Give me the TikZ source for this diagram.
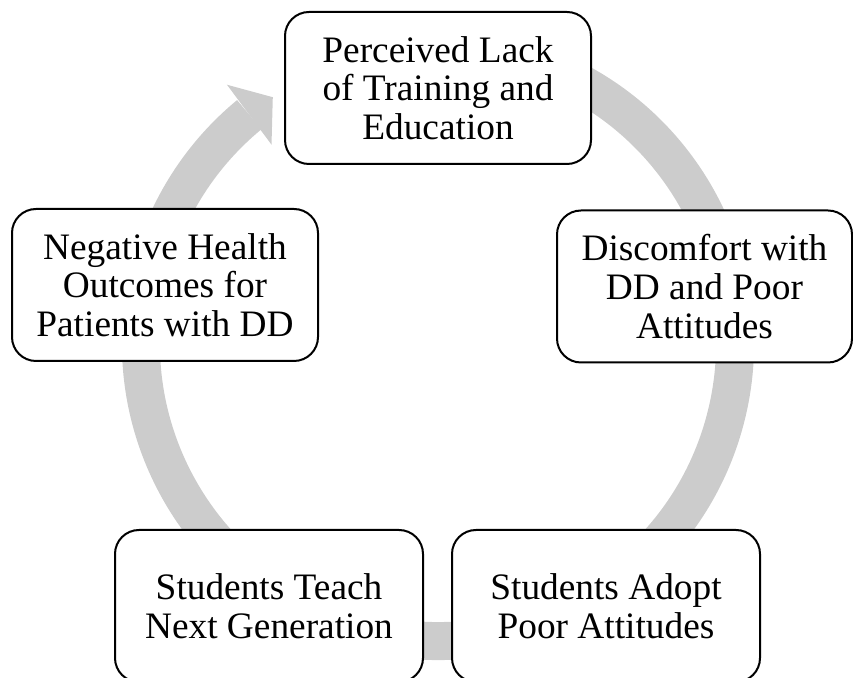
\documentclass[tikz,border=0pt]{standalone}
\usepackage{fontspec}
\setmainfont{Liberation Serif}
\usetikzlibrary{arrows.meta,bending}

\definecolor{ringgray}{RGB}{204,204,204}

\begin{document}
\begin{tikzpicture}[
  x=0.75pt, y=0.75pt,
  cyclebox/.style={draw,line width=1.5pt,rounded corners=18pt,fill=white,
                   align=center,inner sep=2pt,
                   minimum width=229.5pt,minimum height=114pt,
                   font=\fontsize{28}{29}\selectfont},
  ring/.style={draw=ringgray,line width=28.5pt}
]
\useasboundingbox (0,0) rectangle (853,678);
\coordinate (c) at (438,334);
% grey ring going round clockwise behind the boxes
\draw[ring,-{Triangle[length=22pt,width=56pt,line width=0pt]}]
  ([shift={(75:297)}]c) arc[start angle=75,end angle=-236.2,radius=297];
\node[cyclebox] (lack) at (438,590) {Perceived Lack\\of Training and\\Education};
\node[cyclebox,minimum width=221.25pt] (discomfort) at (704.5,391.5) {Discomfort with\\DD and Poor\\Attitudes};
\node[cyclebox,minimum width=231pt] (adopt) at (606,72) {Students Adopt\\Poor Attitudes};
\node[cyclebox,minimum width=231pt] (teach) at (269,72) {Students Teach\\Next Generation};
\node[cyclebox] (outcomes) at (165,393) {Negative Health\\Outcomes for\\Patients with DD};
\end{tikzpicture}
\end{document}
